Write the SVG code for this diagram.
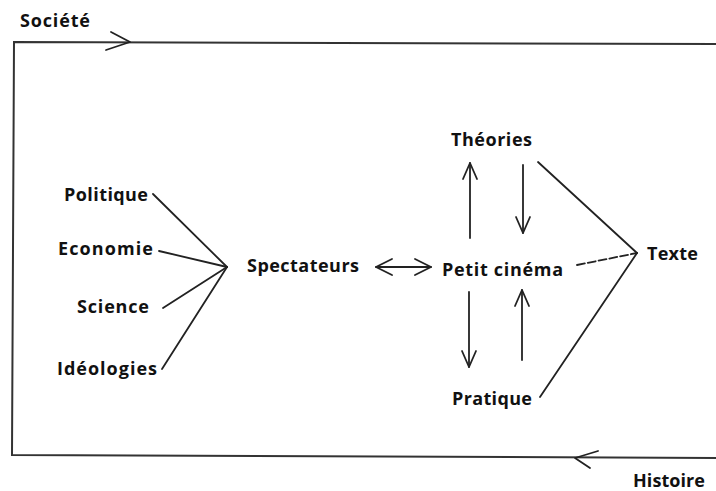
<svg xmlns="http://www.w3.org/2000/svg" width="716" height="491" viewBox="0 0 716 491">
<style>
text{font-family:"Open Sans","Liberation Sans",sans-serif;font-weight:bold;font-size:18px;fill:#111}
.ln{stroke:#222;stroke-width:1.8;fill:none;stroke-linecap:round}
.fr{stroke:#333;stroke-width:2;fill:none}
.hd{stroke:#222;stroke-width:1.8;fill:none;stroke-linecap:round;stroke-linejoin:round}
</style>
<rect width="716" height="491" fill="#fff"/>
<g id="frame">
<path class="fr" d="M716 44 L14 42 L12 455 L716 458"/>
<path class="hd" d="M111 32 L130 42 L106 50"/>
<path class="hd" d="M598 451 L575 458 L590 468"/>
</g>
<g id="connectors">
<line class="ln" x1="153" y1="194" x2="227" y2="267"/>
<line class="ln" x1="159" y1="251" x2="227" y2="267"/>
<line class="ln" x1="163" y1="308" x2="227" y2="267"/>
<line class="ln" x1="162" y1="369" x2="227" y2="267"/>
<line class="ln" x1="376" y1="267" x2="431" y2="267"/>
<path class="hd" d="M392 259 L376 267 L392 275"/>
<path class="hd" d="M415 259 L431 267 L415 275"/>
<line class="ln" x1="470" y1="238" x2="470" y2="163"/>
<path class="hd" d="M463 179 L470 163 L477 179"/>
<line class="ln" x1="523" y1="165" x2="523" y2="233"/>
<path class="hd" d="M516 217 L523 233 L530 217"/>
<line class="ln" x1="469" y1="292" x2="469" y2="367"/>
<path class="hd" d="M462 351 L469 367 L476 351"/>
<line class="ln" x1="522" y1="360" x2="522" y2="290"/>
<path class="hd" d="M515 306 L522 290 L529 306"/>
<line class="ln" x1="538" y1="162" x2="637" y2="253"/>
<line class="ln" x1="577" y1="265" x2="637" y2="253" stroke-dasharray="8 3" stroke-width="1.4"/>
<line class="ln" x1="540" y1="397" x2="637" y2="253"/>
</g>
<g id="societe"><text x="20" y="27" textLength="70">Société</text></g>
<g id="histoire"><text x="633" y="487" textLength="72">Histoire</text></g>
<g id="politique"><text x="64" y="201" textLength="84">Politique</text></g>
<g id="economie"><text x="58" y="255" textLength="95">Economie</text></g>
<g id="science"><text x="77" y="313" textLength="72">Science</text></g>
<g id="ideologies"><text x="57" y="375" textLength="100">Idéologies</text></g>
<g id="spectateurs"><text x="247" y="272" textLength="112">Spectateurs</text></g>
<g id="petit-cinema"><text x="442" y="276" textLength="121">Petit cinéma</text></g>
<g id="theories"><text x="451" y="146" textLength="81">Théories</text></g>
<g id="pratique"><text x="452" y="405" textLength="80">Pratique</text></g>
<g id="texte"><text x="647" y="260" textLength="51">Texte</text></g>
</svg>
